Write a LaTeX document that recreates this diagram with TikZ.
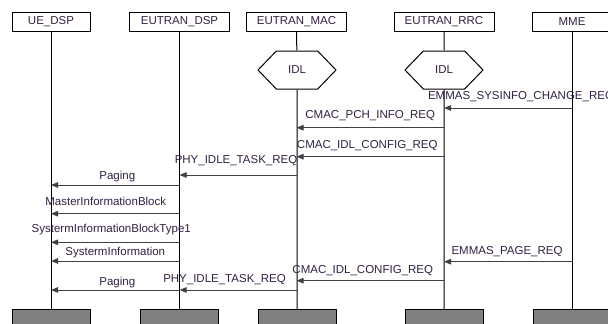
\documentclass[tikz,border=0pt]{standalone}
\usepackage{fontspec}
\setmainfont{Liberation Sans}
\usetikzlibrary{arrows.meta,shapes.symbols}
\definecolor{txtcol}{HTML}{302040}
\definecolor{msgcol}{HTML}{404040}
\definecolor{endfill}{HTML}{808080}

\begin{document}
\begin{tikzpicture}[x=1pt,y=-1pt,line width=1pt,>={Triangle[length=7pt,width=5.5pt]},
  every node/.style={font=\fontsize{11.5}{13}\selectfont,text=txtcol},
  actor/.style={draw,minimum height=19pt,inner sep=0pt},
  endbox/.style={draw,fill=endfill,minimum width=78pt,minimum height=20pt,anchor=north},
  state/.style={draw,signal,signal to=west and east,signal from=nowhere,
    signal pointer angle=92,minimum width=78pt,minimum height=38pt,inner sep=0pt},
  msg/.style={draw=msgcol,->},
  lbl/.style={anchor=base,midway,inner sep=0pt}]
  \clip (0,0) rectangle (608,324);
  \useasboundingbox (0,0) rectangle (608,324);
  % lifeline heads
  \node[actor,minimum width=78pt]  (ue)  at (51,21.5)    {UE\_DSP};
  \node[actor,minimum width=100pt] (dsp) at (179.5,21.5) {EUTRAN\_DSP};
  \node[actor,minimum width=100pt] (mac) at (296.5,21.5) {EUTRAN\_MAC};
  \node[actor,minimum width=100pt] (rrc) at (444,21.5)   {EUTRAN\_RRC};
  \node[actor,minimum width=80pt]  (mme) at (572,21.5)   {MME};
  % states
  \node[state] (macidl) at (297,70) {IDL};
  \node[state] (rrcidl) at (444,70) {IDL};
  % lifeline ends
  \node[endbox] (ueend)  at (51,309)    {};
  \node[endbox] (dspend) at (179.5,309) {};
  \node[endbox] (macend) at (297,309)   {};
  \node[endbox] (rrcend) at (444,309)   {};
  \node[endbox] (mmeend) at (572,309)   {};
  % lifelines
  \draw (ue) -- (ueend);
  \draw (dsp) -- (dspend);
  \draw (mac) -- (macidl) (macidl) -- (macend);
  \draw (rrc) -- (rrcidl) (rrcidl) -- (rrcend);
  \draw (mme) -- (mmeend);
  % messages
  \draw[msg] (mme |- 0,108) -- (rrc |- 0,108) node[lbl,xshift=13pt,yshift=9pt] {EMMAS\_SYSINFO\_CHANGE\_REQ};
  \draw[msg] (rrc |- 0,127.7) -- (mac |- 0,127.7) node[lbl,yshift=9.4pt] {CMAC\_PCH\_INFO\_REQ};
  \draw[msg] (rrc |- 0,156.7) -- (mac |- 0,156.7) node[lbl,xshift=-3pt,yshift=8.4pt] {CMAC\_IDL\_CONFIG\_REQ};
  \draw[msg] (mac |- 0,175) -- (dsp |- 0,175) node[lbl,xshift=-2pt,yshift=11.7pt] {PHY\_IDLE\_TASK\_REQ};
  \draw[msg] (dsp |- 0,185) -- (ue |- 0,185) node[lbl,xshift=2pt,yshift=6pt] {Paging};
  \draw[msg] (dsp |- 0,213.7) -- (ue |- 0,213.7) node[lbl,xshift=-9.5pt,yshift=8pt] {MasterInformationBlock};
  \draw[msg] (dsp |- 0,242.3) -- (ue |- 0,242.3) node[lbl,xshift=-4pt,yshift=9.6pt] {SystermInformationBlockType1};
  \draw[msg] (dsp |- 0,261) -- (ue |- 0,261) node[lbl,yshift=5.3pt] {SystermInformation};
  \draw[msg] (mme |- 0,261.7) -- (rrc |- 0,261.7) node[lbl,xshift=-1pt,yshift=7.7pt] {EMMAS\_PAGE\_REQ};
  \draw[msg] (rrc |- 0,280.7) -- (mac |- 0,280.7) node[lbl,xshift=-7.5pt,yshift=7.4pt] {CMAC\_IDL\_CONFIG\_REQ};
  \draw[msg] (mac |- 0,290) -- (dsp |- 0,290) node[lbl,xshift=-13.5pt,yshift=7.3pt] {PHY\_IDLE\_TASK\_REQ};
  \draw[msg] (dsp |- 0,290) -- (ue |- 0,290) node[lbl,xshift=2pt,yshift=4.7pt] {Paging};
\end{tikzpicture}
\end{document}
